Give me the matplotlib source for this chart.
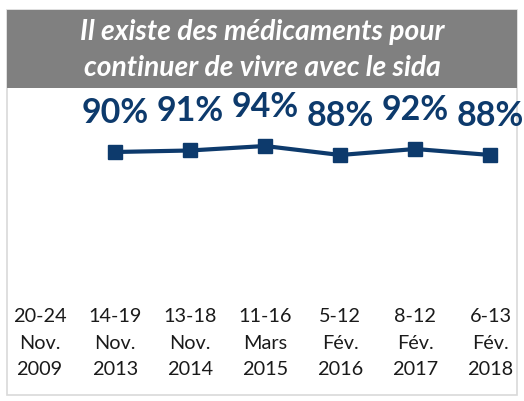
import matplotlib
matplotlib.use("Agg")
import matplotlib.pyplot as plt
from matplotlib.patches import Rectangle

categories = ["20-24\nNov.\n2009", "14-19\nNov.\n2013", "13-18\nNov.\n2014", "11-16\nMars\n2015",
              "5-12\nFév.\n2016", "8-12\nFév.\n2017", "6-13\nFév.\n2018"]
values = [None, 90, 91, 94, 88, 92, 88]
labels = ["", "90%", "91%", "94%", "88%", "92%", "88%"]
title = "Il existe des médicaments pour\ncontinuer de vivre avec le sida"

navy = "#0D3A6C"
fig = plt.figure(figsize=(5.24, 4.01), dpi=100)
W, H = 524, 401

def fx(px): return px / W
def fy(py): return 1 - py / H

# border
fig.patches.append(Rectangle((fx(7), fy(395)), fx(517) - fx(7), fy(10) - fy(395),
                             transform=fig.transFigure, facecolor="none",
                             edgecolor="#D9D9D9", lw=1.2, zorder=0))
# banner
fig.patches.append(Rectangle((fx(7), fy(88)), fx(517) - fx(7), fy(10) - fy(88),
                             transform=fig.transFigure, facecolor="#808080",
                             edgecolor="none", zorder=1))
fig.text(fx(262), fy(50), title, ha="center", va="center", color="white",
         fontsize=20.3, fontstyle="italic", fontweight="bold", family="Lato",
         linespacing=1.45)

ax = fig.add_axes([fx(2), fy(287), fx(528) - fx(2), fy(137) - fy(287)])
ax.set_zorder(5)
ax.set_xlim(-0.5, 6.5)
ax.set_ylim(0, 100)
ax.axis("off")

xs = [i for i, v in enumerate(values) if v is not None]
ys = [v for v in values if v is not None]
ax.plot(xs, ys, color=navy, lw=3, marker="s", markersize=10, zorder=3)
for i, v in enumerate(values):
    if v is not None:
        ax.annotate(labels[i], (i, v), xytext=(0, 21), textcoords="offset points",
                    ha="center", va="baseline", color=navy, fontsize=24.5,
                    fontweight="bold", family="Lato", annotation_clip=False)
for i, c in enumerate(categories):
    ax.text(i, -14, c, ha="center", va="top", fontsize=14.3, family="Lato",
            color="#1a1a1a", linespacing=1.68, transform=ax.transData, clip_on=False)

fig.savefig("out.png", dpi=100)
